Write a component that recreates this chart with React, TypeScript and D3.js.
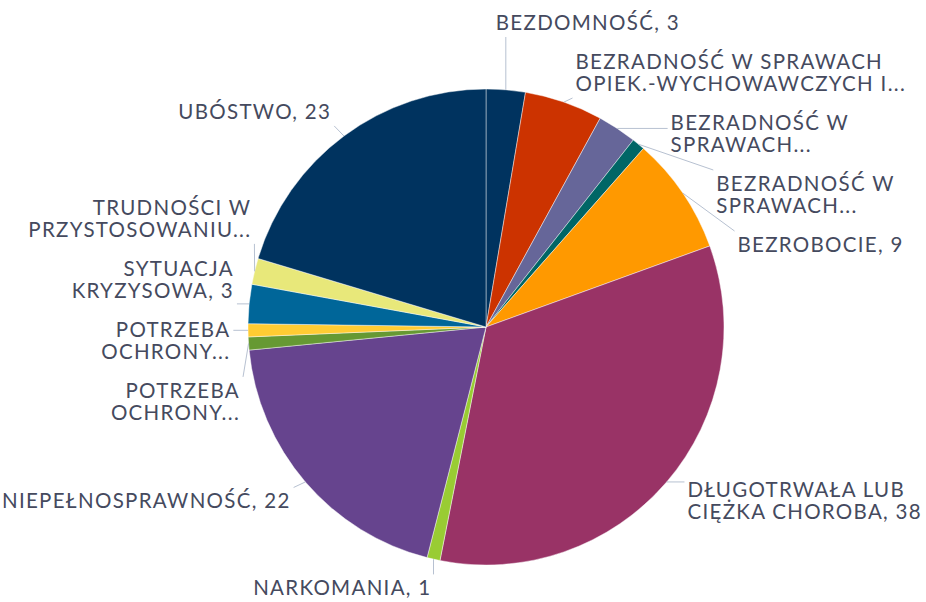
import * as d3 from "d3";
import { useEffect, useRef } from "react";

// label text ("|" = line break); truncated names carry no value
const categories = [
  "BEZDOMNOŚĆ",
  "BEZRADNOŚĆ W SPRAWACH|OPIEK.-WYCHOWAWCZYCH I...",
  "BEZRADNOŚĆ W|SPRAWACH...",
  "BEZRADNOŚĆ W|SPRAWACH...",
  "BEZROBOCIE",
  "DŁUGOTRWAŁA LUB|CIĘŻKA CHOROBA",
  "NARKOMANIA",
  "NIEPEŁNOSPRAWNOŚĆ",
  "POTRZEBA|OCHRONY...",
  "POTRZEBA|OCHRONY...",
  "SYTUACJA|KRYZYSOWA",
  "TRUDNOŚCI W|PRZYSTOSOWANIU...",
  "UBÓSTWO",
];

const values = [3, 6, 3, 1, 9, 38, 1, 22, 1, 1, 3, 2, 23];

const colors = [
  "#00335f",
  "#cc3300",
  "#666699",
  "#006666",
  "#ff9900",
  "#993366",
  "#99cc33",
  "#66448e",
  "#669933",
  "#ffcc33",
  "#006699",
  "#e8e87a",
  "#00335f",
];

interface Slice {
  label: string;
  value: number;
  color: string;
}

interface LabelBox {
  arc: d3.PieArcDatum<Slice>;
  lines: string[];
  mid: number;
  right: boolean;
  h: number;
  ny: number;
  y: number;
}

const width = 926;
const height = 602;
const cx = 486;
const cy = 327;
const radius = 238;
const lineH = 22;
const gap = 17;

const App = () => {
  const svgRef = useRef<SVGSVGElement>(null);

  useEffect(() => {
    const svg = d3.select(svgRef.current);
    svg.selectAll("*").remove();

    const slices: Slice[] = categories.map((c, i) => ({
      label: c,
      value: values[i],
      color: colors[i],
    }));

    const pie = d3
      .pie<Slice>()
      .sort(null)
      .value((d) => d.value);
    const arc = d3.arc<d3.PieArcDatum<Slice>>().innerRadius(0).outerRadius(radius);

    const g = svg.append("g").attr("transform", `translate(${cx},${cy})`);
    const arcs = pie(slices);

    g.selectAll("path")
      .data(arcs)
      .enter()
      .append("path")
      .attr("d", arc as any)
      .attr("fill", (d) => d.data.color)
      .attr("stroke", "rgba(255,255,255,0.55)")
      .attr("stroke-width", 0.8);

    // label boxes
    const boxes: LabelBox[] = arcs.map((a) => {
      const mid = (a.startAngle + a.endAngle) / 2;
      const lines = a.data.label.split("|");
      if (!a.data.label.endsWith("...")) {
        lines[lines.length - 1] += `, ${a.data.value}`;
      }
      const h = lines.length * lineH;
      const ny = cy - (radius + 30) * Math.cos(mid);
      return { arc: a, lines, mid, right: Math.sin(mid) >= 0, h, ny, y: ny };
    });

    // push overlapping labels apart, per side
    const relax = (items: LabelBox[]) => {
      items.sort((a, b) => a.ny - b.ny);
      const clusters = items.map((it) => [it]);
      const place = (cl: LabelBox[]) => {
        let off = 0;
        const offs = cl.map((it) => {
          const o = off + it.h / 2;
          off += it.h + gap;
          return o;
        });
        const H = off - gap;
        let top = d3.mean(cl, (it, i) => it.ny - offs[i]) as number;
        top = Math.max(12, Math.min(height - 2 - H, top));
        cl.forEach((it, i) => (it.y = top + offs[i]));
        return { top, bottom: top + H };
      };
      let merged = true;
      while (merged) {
        merged = false;
        for (let i = 0; i < clusters.length - 1; i++) {
          const a = place(clusters[i]);
          const b = place(clusters[i + 1]);
          if (a.bottom + gap > b.top) {
            clusters[i] = clusters[i].concat(clusters[i + 1]);
            clusters.splice(i + 1, 1);
            merged = true;
            break;
          }
        }
      }
      clusters.forEach(place);
    };
    relax(boxes.filter((b) => b.right));
    relax(boxes.filter((b) => !b.right));

    const labels = svg.append("g");
    const lines = svg.append("g");

    boxes.forEach((b) => {
      const sx = cx + radius * Math.sin(b.mid);
      const sy = cy - radius * Math.cos(b.mid);

      // labels sit on an ellipse around the pie
      const ry = 270;
      const rx = b.right ? 264 : 256;
      const k = Math.max(0, 1 - ((b.y - cy) / ry) ** 2);
      const dx = rx * Math.sqrt(k);
      let x = b.right ? cx + dx : cx - dx;
      // near the top / bottom keep the text next to its slice
      if (Math.abs(Math.cos(b.mid)) > 0.9) {
        x = b.right ? Math.max(x, sx - 10) : Math.max(x, sx - 2);
      }
      const top = b.y - b.h / 2;

      const t = labels
        .append("text")
        .attr("text-anchor", b.right ? "start" : "end")
        .attr("font-family", "Lato, sans-serif")
        .attr("font-size", 20.5)
        .attr("letter-spacing", 1.3)
        .attr("fill", "#454a5e");
      b.lines.forEach((ln, i) => {
        t.append("tspan")
          .attr("x", x)
          .attr("y", top + i * lineH + 18)
          .text(ln);
      });
      const bb = (t.node() as SVGTextElement).getBBox();
      const x0 = bb.x - 3;
      const x1 = bb.x + bb.width + 3;
      const y0 = top - 3;
      const y1 = top + b.h + 3;

      const ex = Math.max(x0, Math.min(x1, sx));
      const ey = Math.max(y0, Math.min(y1, sy));

      lines
        .append("line")
        .attr("x1", sx)
        .attr("y1", sy)
        .attr("x2", ex)
        .attr("y2", ey)
        .attr("stroke", "#b7c1d1")
        .attr("stroke-width", 1);
    });
  }, []);

  return (
    <svg
      ref={svgRef}
      width={width}
      height={height}
      style={{ position: "absolute", left: 0, top: 0, background: "#fff" }}
    ></svg>
  );
};

export default App;
